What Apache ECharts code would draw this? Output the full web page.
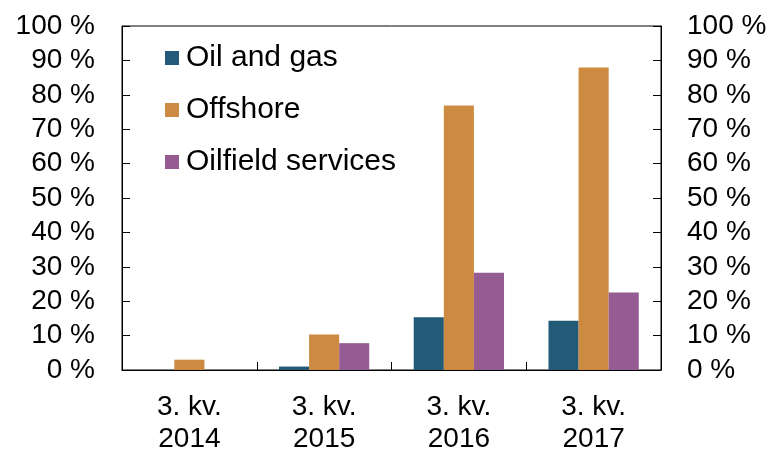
<!DOCTYPE html>
<html>
<head>
<meta charset="utf-8">
<script src="https://cdn.jsdelivr.net/npm/echarts@6/dist/echarts.min.js"></script>
<style>
  html, body { margin: 0; padding: 0; background: #fff; }
  #chart { width: 773px; height: 455px; }
</style>
</head>
<body>
<div id="chart"></div>
<script>
// data
const categories = ["3. kv.\n2014", "3. kv.\n2015", "3. kv.\n2016", "3. kv.\n2017"];
const oilAndGas = [0, 1, 15.3, 14.3];
const offshore = [3, 10.3, 76.9, 87.9];
const oilfieldServices = [0, 7.8, 28.3, 22.5];

const font = "Liberation Sans, Arial, sans-serif";

const myChart = echarts.init(document.getElementById("chart"));

function yAxisCfg(pos) {
  return {
    type: "value",
    position: pos,
    min: 0,
    max: 100,
    interval: 10,
    axisLine: { show: true, lineStyle: { color: "#000", width: 1 } },
    axisTick: { show: true, inside: true, length: 8, lineStyle: { color: "#000" } },
    splitLine: { show: false },
    axisLabel: {
      formatter: "{value} %",
      color: "#000",
      fontFamily: font,
      fontSize: 28,
      margin: pos === "left" ? 27 : 26,
    },
  };
}

let option = {
  backgroundColor: "#fff",
  animation: false,
  grid: {
    left: 122,
    right: 112,
    top: 26,
    bottom: 84,
    show: true,
    borderColor: "#000",
    borderWidth: 1,
  },
  legend: {
    orient: "vertical",
    left: 160,
    top: 38,
    itemWidth: 14,
    itemHeight: 14,
    itemGap: 22,
    icon: "rect",
    textStyle: { fontFamily: font, fontSize: 30, color: "#000", padding: [0, 0, 0, 2] },
    data: ["Oil and gas", "Offshore", "Oilfield services"],
  },
  xAxis: {
    type: "category",
    data: categories,
    axisLine: { show: true, lineStyle: { color: "#000", width: 1 } },
    axisTick: { show: true, inside: true, length: 8, lineStyle: { color: "#000" } },
    axisLabel: {
      color: "#000",
      fontFamily: font,
      fontSize: 28,
      lineHeight: 32,
      margin: 21,
    },
  },
  yAxis: [yAxisCfg("left"), yAxisCfg("right")],
  series: [
    {
      name: "Oil and gas",
      type: "bar",
      data: oilAndGas,
      itemStyle: { color: "#235a78" },
      barGap: "0%",
      barCategoryGap: "33%",
    },
    {
      name: "Offshore",
      type: "bar",
      data: offshore,
      itemStyle: { color: "#cd8b41" },
    },
    {
      name: "Oilfield services",
      type: "bar",
      data: oilfieldServices,
      itemStyle: { color: "#955b93" },
    },
  ],
};

option && myChart.setOption(option);
</script>
</body>
</html>
